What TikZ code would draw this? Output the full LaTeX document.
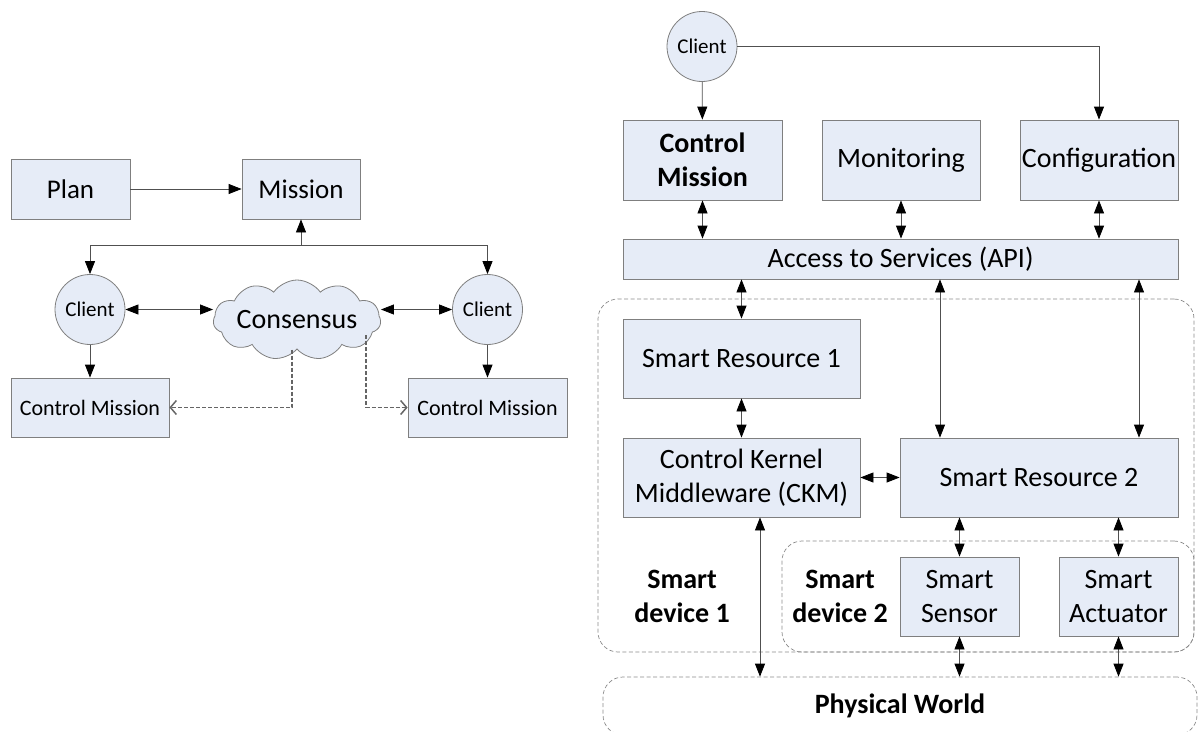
\documentclass[tikz,border=0pt]{standalone}
\usepackage{fontspec}
\setmainfont{Carlito}
\usetikzlibrary{arrows.meta,shapes.symbols}

\definecolor{boxfill}{HTML}{E6ECF7}
\definecolor{boxline}{HTML}{7F7F7F}
\definecolor{linecol}{HTML}{505050}
\definecolor{dashcol}{HTML}{656565}
\definecolor{grpline}{HTML}{8A8A8A}

\newcommand\mainsize{\fontsize{28}{34}\selectfont}
\newcommand\plansize{\fontsize{27}{33}\selectfont}
\newcommand\cmsize{\fontsize{22}{27}\selectfont}
\newcommand\clientsize{\fontsize{21}{25}\selectfont}

\begin{document}
\begin{tikzpicture}[x=1pt, y=-1pt,
    box/.style={draw=boxline, fill=boxfill, line width=0.8pt, align=center, inner sep=1pt, font=\mainsize},
    client/.style={draw=boxline, fill=boxfill, line width=0.8pt, circle, inner sep=0pt, minimum size=70pt, font=\clientsize},
    group/.style={draw=grpline, line width=0.7pt, dash pattern=on 4pt off 2.5pt, rounded corners=20pt},
    link/.style={draw=linecol, line width=0.8pt, -{Triangle[length=13pt, width=10pt, color=black]}},
    both/.style={link, {Triangle[length=13pt, width=10pt, color=black]}-{Triangle[length=13pt, width=10pt, color=black]}},
    sync/.style={draw=dashcol, line width=1.5pt, dash pattern=on 4pt off 2pt, -{Straight Barb[length=6pt, width=14pt]}}]
  \useasboundingbox (0,0) rectangle (1198,731);
  \clip (0,0) rectangle (1198,731);

  % plan, mission and the two clients
  \node[box, minimum width=119pt, minimum height=60pt, font=\plansize] (plan) at (70.5,189) {Plan};
  \node[box, minimum width=118pt, minimum height=60pt, font=\plansize] (mission) at (301,189) {Mission};
  \node[client] (clientL) at (90,309.5) {Client};
  \node[client] (clientR) at (487.5,309.5) {Client};
  \node[draw=boxline, fill=boxfill, line width=0.8pt, cloud, cloud puffs=11, cloud puff arc=110,
        cloud ignores aspect, minimum width=160pt, minimum height=80pt, inner sep=0pt, font=\mainsize]
        (consensus) at (297,320) {Consensus};
  \node[box, minimum width=158pt, minimum height=59pt, font=\cmsize] (cmL) at (90,407.5) {Control Mission};
  \node[box, minimum width=159pt, minimum height=59pt, font=\cmsize] (cmR) at (487.5,407.5) {Control Mission};
  \coordinate (split) at (301,245);

  \draw[link] (plan) -- (mission);
  \draw[link] (split) -- (mission.south);
  \draw[link] (split) -| (clientL.north);
  \draw[link] (split) -| (clientR.north);
  \draw[both] (clientL.east) -- (clientL.east -| consensus.west);
  \draw[both] (consensus.east |- clientR.west) -- (clientR.west);
  \draw[link] (clientL) -- (cmL);
  \draw[link] (clientR) -- (cmR);
  \draw[sync] ([xshift=-5pt]consensus.south) |- (cmL.east);
  \draw[sync] ([xshift=69pt, yshift=-15pt]consensus.center) |- (cmR.west);

  % device groups
  \node[group, minimum width=596pt, minimum height=353pt] (dev1) at (896,475.5) {};
  \node[group, minimum width=412pt, minimum height=111pt] (dev2) at (988,596.5) {};
  \node[group, minimum width=594pt, minimum height=58pt, font=\mainsize\bfseries] (world) at (900,706) {Physical World};
  \node[font=\mainsize\bfseries, align=center] (lbl1) at (682,596) {Smart\\device 1};
  \node[font=\mainsize\bfseries, align=center] (lbl2) at (840,596) {Smart\\device 2};

  % services
  \node[client] (clientT) at (702,46.5) {Client};
  \node[box, minimum width=159pt, minimum height=80pt, font=\mainsize\bfseries] (ctrl) at (702.5,160) {Control\\Mission};
  \node[box, minimum width=158pt, minimum height=80pt] (monitor) at (901,160) {Monitoring};
  \node[box, minimum width=158pt, minimum height=80pt] (config) at (1099,160) {Configuration};
  \node[box, minimum width=555pt, minimum height=40pt] (api) at (900.5,259) {Access to Services (API)};

  % resources, kernel, sensor and actuator
  \node[box, minimum width=237pt, minimum height=79pt] (sr1) at (741.5,358.5) {Smart Resource 1};
  \node[box, minimum width=237pt, minimum height=79pt] (ckm) at (741.5,477.5) {Control Kernel\\Middleware (CKM)};
  \node[box, minimum width=278pt, minimum height=79pt] (sr2) at (1039,477.5) {Smart Resource 2};
  \node[box, minimum width=119pt, minimum height=79pt] (sensor) at (959.5,596.5) {Smart\\Sensor};
  \node[box, minimum width=119pt, minimum height=79pt] (actuator) at (1118.5,596.5) {Smart\\Actuator};

  \draw[link] (clientT) -- (ctrl);
  \draw[link] (clientT.east) -| (config.north);
  \draw[both] (ctrl.south) -- (ctrl.south |- api.north);
  \draw[both] (monitor.south) -- (monitor.south |- api.north);
  \draw[both] (config.south) -- (config.south |- api.north);
  \draw[both] (api.south -| sr1.north) -- (sr1.north);
  \draw[both] (api.south -| 940,0) -- (sr2.north -| 940,0);
  \draw[both] (api.south -| 1139,0) -- (sr2.north -| 1139,0);
  \draw[both] (sr1) -- (ckm);
  \draw[both] (ckm) -- (sr2);
  \draw[both] (sr2.south -| sensor.north) -- (sensor.north);
  \draw[both] (sr2.south -| actuator.north) -- (actuator.north);
  \draw[both] (ckm.south -| 760,0) -- (world.north -| 760,0);
  \draw[both] (sensor.south) -- (sensor.south |- world.north);
  \draw[both] (actuator.south) -- (actuator.south |- world.north);
\end{tikzpicture}
\end{document}
